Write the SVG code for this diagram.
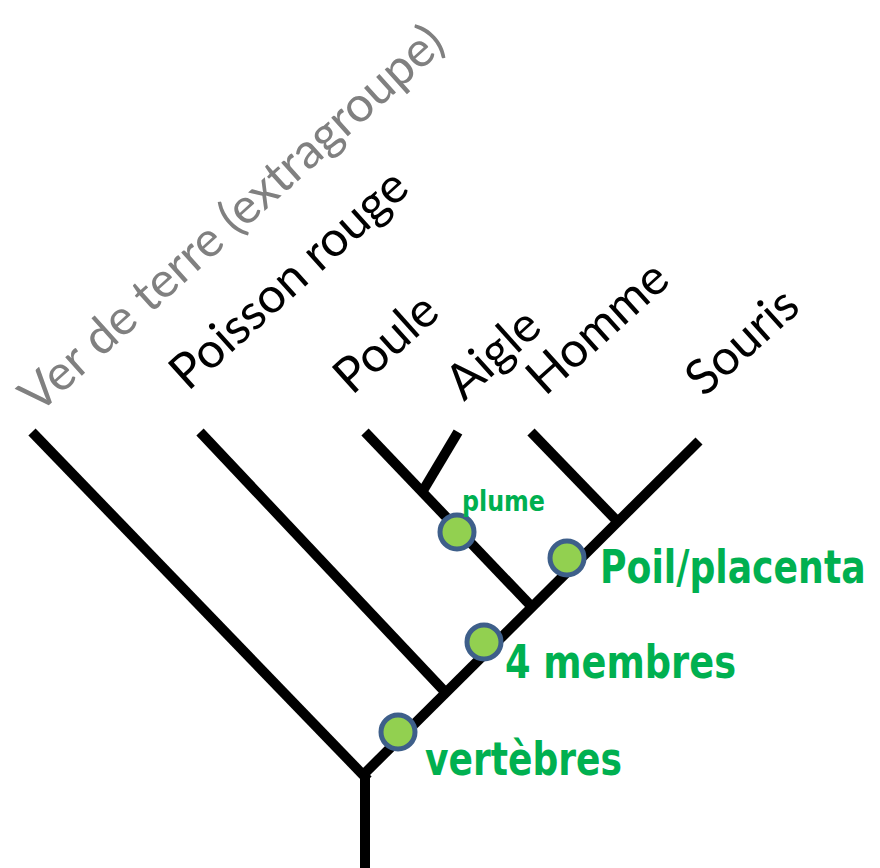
<svg xmlns="http://www.w3.org/2000/svg" width="880" height="868" viewBox="0 0 880 868">
<style>
.br{stroke:#000;stroke-width:10;fill:none;stroke-linecap:butt}
.lbl{font-family:"Lato","Open Sans","Liberation Sans",sans-serif;font-size:49px;fill:#000}
.out{fill:#808080}
.mk{fill:#92D050;stroke:#3E5F8A;stroke-width:5}
.gt{font-family:"Liberation Sans Narrow","DejaVu Sans Condensed",sans-serif;font-stretch:condensed;font-weight:bold;fill:#00B050}
</style>
<rect width="880" height="868" fill="#fff"/>
<g id="connectors">
<line class="br" x1="365" y1="770" x2="365" y2="868"/>
<line class="br" x1="32" y1="432" x2="368" y2="780"/>
<line class="br" x1="360" y1="778" x2="699" y2="441"/>
<line class="br" x1="200" y1="432" x2="447" y2="694"/>
<line class="br" x1="365" y1="432" x2="532" y2="607"/>
<line class="br" x1="458" y1="432" x2="421" y2="494"/>
<line class="br" x1="531" y1="432" x2="618" y2="522"/>
</g>
<g id="ver"><text class="lbl out" transform="translate(38,415) rotate(-42)">Ver de terre (extragroupe)</text></g>
<g id="poisson"><text class="lbl" transform="translate(188,392) rotate(-42)">Poisson rouge</text></g>
<g id="poule"><text class="lbl" transform="translate(352,396) rotate(-42)">Poule</text></g>
<g id="aigle"><text class="lbl" transform="translate(464,402) rotate(-42)">Aigle</text></g>
<g id="homme"><text class="lbl" transform="translate(545,397) rotate(-42)">Homme</text></g>
<g id="souris"><text class="lbl" transform="translate(704,398) rotate(-42)">Souris</text></g>
<g id="plume"><circle class="mk" cx="457" cy="532" r="17"/><text class="gt" x="462" y="511" font-size="28" textLength="83" lengthAdjust="spacingAndGlyphs">plume</text></g>
<g id="poil"><circle class="mk" cx="567" cy="558" r="17"/><text class="gt" transform="translate(600,583) scale(0.8,1)" font-size="46" textLength="332" lengthAdjust="spacingAndGlyphs">Poil/placenta</text></g>
<g id="membres"><circle class="mk" cx="484" cy="642" r="17"/><text class="gt" x="505" y="678" font-size="46" textLength="231" lengthAdjust="spacingAndGlyphs">4 membres</text></g>
<g id="vertebres"><circle class="mk" cx="398" cy="732" r="17"/><text class="gt" x="425" y="775" font-size="46" textLength="197" lengthAdjust="spacingAndGlyphs">vertèbres</text></g>
</svg>
